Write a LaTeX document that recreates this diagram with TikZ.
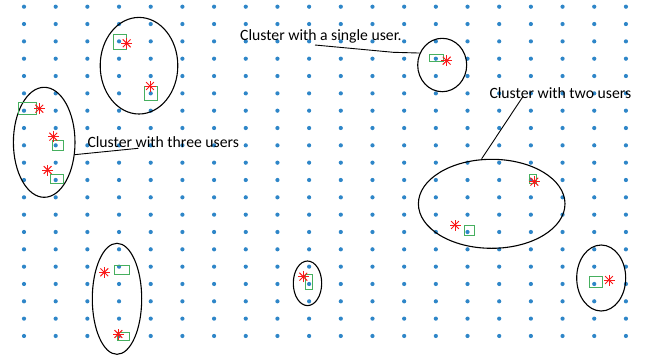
\documentclass[tikz,border=0pt]{standalone}
\usepackage{fontspec}
\setmainfont{Carlito}
\usetikzlibrary{shapes.geometric}
\definecolor{gridblue}{RGB}{46,134,200}
\definecolor{boxgreen}{RGB}{70,175,95}
\definecolor{starred}{RGB}{250,25,25}
\tikzset{%
	grid_dot/.style={fill=gridblue}
}
\tikzset{%
	user_box/.style={draw=boxgreen,line width=1pt},
	user_star/.style={draw=starred,line width=1pt}
}
\tikzset{%
	cluster/.style={ellipse,draw,line width=1.1pt,inner sep=0pt},
	label_text/.style={font=\fontsize{15.7}{18}\selectfont,inner sep=0pt,anchor=west},
	pointer/.style={line width=0.9pt}
}

\begin{document}
\begin{tikzpicture}[x=1pt,y=-1pt]
		\useasboundingbox (0,0) rectangle (649,360);

		%Grid of points
		\foreach \i in {0,...,19}
			\foreach \j in {0,...,19}
				\fill [grid_dot] (24+\i*31.68,6.7+\j*17.33) circle [radius=2.1pt];

		%Clusters
		\node [cluster,minimum width=77.6pt,minimum height=96.6pt] (c_top) at (139,65.7) {};
		\node [cluster,minimum width=61.6pt,minimum height=110pt] (c_three) at (44.2,142.3) {};
		\node [cluster,minimum width=49pt,minimum height=53.4pt] (c_single) at (442.2,65) {};
		\node [cluster,minimum width=146.6pt,minimum height=89pt] (c_two) at (491.7,203.8) {};
		\node [cluster,minimum width=49.4pt,minimum height=111pt] (c_bottom) at (117,298.8) {};
		\node [cluster,minimum width=28.4pt,minimum height=44.6pt] (c_middle) at (307.5,283.3) {};
		\node [cluster,minimum width=49pt,minimum height=66pt] (c_right) at (601.2,278) {};

		%Users (boxes)
		\draw [user_box] (113.3,34.3) rectangle (126,49.3);
		\draw [user_box] (144.3,86) rectangle (157.3,100);
		\draw [user_box] (18.7,102.3) rectangle (36,114);
		\draw [user_box] (52.7,140.7) rectangle (63.3,150);
		\draw [user_box] (50,174) rectangle (63.3,183.3);
		\draw [user_box] (429.3,54.3) rectangle (443.3,61.7);
		\draw [user_box] (529.3,174) rectangle (536.7,183.3);
		\draw [user_box] (464,225.7) rectangle (474,235.7);
		\draw [user_box] (114.3,265.3) rectangle (129,274);
		\draw [user_box] (117.7,332) rectangle (129,340);
		\draw [user_box] (305.7,274) rectangle (312.7,289.3);
		\draw [user_box] (589.3,276) rectangle (602.3,287.7);

		%Users (stars)
		\foreach \x/\y in {126.7/43.3,150/86,39.3/108.7,53.3/136.7,47.7/170,446.7/60.7,
				534.3/181.7,455/225,104.3/272.3,118.3/334,303.3/276.7,609/280}
			\foreach \a in {0,45,90,135}
				\draw [user_star] (\x,\y) ++(\a:5.5) -- ++(\a+180:11);

		%Labels
		\node [label_text] (l_three) at (87.3,141.7) {Cluster with three users};
		\node [label_text] (l_single) at (240,36) {Cluster with a single user.};
		\node [label_text] (l_two) at (489.3,92.7) {Cluster with two users};

		\coordinate (t_three) at (138.3,148.3);
		\coordinate (t_single) at (315,45);
		\coordinate (k_single) at (393.3,52.3);
		\coordinate (t_two) at (523.3,96);

		\draw [pointer] (c_three.-22) -- (t_three);
		\draw [pointer] (t_single) -- (k_single) -- (c_single.152);
		\draw [pointer] (c_two.north) ++(-10,0) coordinate (b_two) -- (t_two);

	\end{tikzpicture}
\end{document}
